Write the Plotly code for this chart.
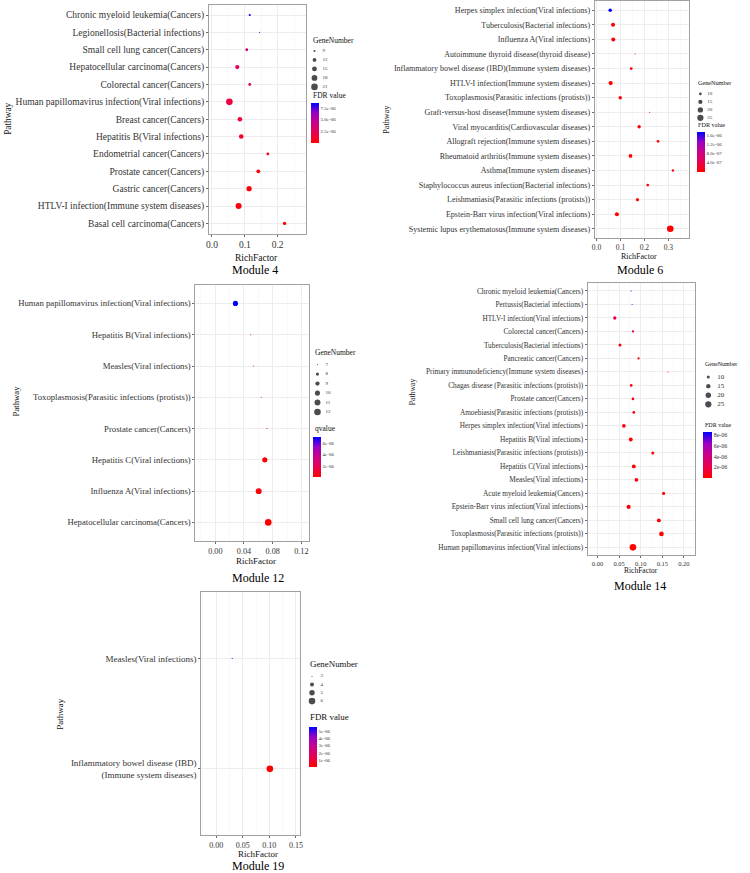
import math
import plotly.graph_objects as go

W, H = 750, 873
FONT = "Liberation Serif"

# ---------------- data ----------------
m4_pathways = ["Chronic myeloid leukemia(Cancers)", "Legionellosis(Bacterial infections)",
               "Small cell lung cancer(Cancers)", "Hepatocellular carcinoma(Cancers)",
               "Colorectal cancer(Cancers)", "Human papillomavirus infection(Viral infections)",
               "Breast cancer(Cancers)", "Hepatitis B(Viral infections)", "Endometrial cancer(Cancers)",
               "Prostate cancer(Cancers)", "Gastric cancer(Cancers)",
               "HTLV-I infection(Immune system diseases)", "Basal cell carcinoma(Cancers)"]
m4_rich = [0.115, 0.145, 0.106, 0.077, 0.115, 0.053, 0.085, 0.089, 0.170, 0.141, 0.113, 0.081, 0.221]
m4_genes = [9, 8, 10, 13, 10, 21, 14, 14, 10, 12, 16, 19, 11]
m4_fdr = [8.6e-6, 6.8e-6, 4.6e-6, 2.6e-6, 2.5e-6, 1.8e-6, 1.5e-6, 1.2e-6, 5e-7, 4e-7, 3e-7, 6e-7, 5e-8]
m4_size_legend = [9, 12, 15, 18, 21]
m4_cb_ticks = [2.5e-6, 5.0e-6, 7.5e-6]
m4_cb_labels = ["2.5e-06", "5.0e-06", "7.5e-06"]
m4_x_ticks = [0.0, 0.1, 0.2]
m4_x_labels = ["0.0", "0.1", "0.2"]

m6_pathways = ["Herpes simplex infection(Viral infections)", "Tuberculosis(Bacterial infections)",
               "Influenza A(Viral infections)", "Autoimmune thyroid disease(thyroid disease)",
               "Inflammatory bowel disease (IBD)(Immune system diseases)",
               "HTLV-I infection(Immune system diseases)", "Toxoplasmosis(Parasitic infections (protists))",
               "Graft-versus-host disease(Immune system diseases)", "Viral myocarditis(Cardiovascular diseases)",
               "Allograft rejection(Immune system diseases)", "Rheumatoid arthritis(Immune system diseases)",
               "Asthma(Immune system diseases)", "Staphylococcus aureus infection(Bacterial infections)",
               "Leishmaniasis(Parasitic infections (protists))", "Epstein-Barr virus infection(Viral infections)",
               "Systemic lupus erythematosus(Immune system diseases)"]
m6_rich = [0.057, 0.069, 0.070, 0.161, 0.145, 0.059, 0.099, 0.222, 0.178, 0.257, 0.142, 0.319, 0.214, 0.171, 0.085, 0.308]
m6_genes = [12, 14, 14, 7, 10, 15, 12, 7, 12, 10, 13, 9, 10, 11, 14, 27]
m6_fdr = [1.75e-6, 6e-8, 8e-8, 4e-8, 9e-8, 3e-8, 5e-8, 7e-8, 4e-8, 2e-8, 3e-8, 2e-8, 1e-8, 1e-8, 5e-9, 1e-9]
m6_size_legend = [10, 15, 20, 25]
m6_cb_ticks = [4e-7, 8e-7, 1.2e-6, 1.6e-6]
m6_cb_labels = ["4.0e-07", "8.0e-07", "1.2e-06", "1.6e-06"]
m6_x_ticks = [0.0, 0.1, 0.2, 0.3]
m6_x_labels = ["0.0", "0.1", "0.2", "0.3"]

m12_pathways = ["Human papillomavirus infection(Viral infections)", "Hepatitis B(Viral infections)",
                "Measles(Viral infections)", "Toxoplasmosis(Parasitic infections (protists))",
                "Prostate cancer(Cancers)", "Hepatitis C(Viral infections)",
                "Influenza A(Viral infections)", "Hepatocellular carcinoma(Cancers)"]
m12_rich = [0.0281, 0.0494, 0.0535, 0.064, 0.072, 0.069, 0.0605, 0.0738]
m12_genes = [10, 7, 7, 7, 7, 10, 11, 12]
m12_q = [7.2e-6, 3.0e-6, 2.8e-6, 1.6e-6, 1.1e-6, 3e-7, 2e-7, 1e-7]
m12_size_legend = [7, 8, 9, 10, 11, 12]
m12_cb_ticks = [2e-6, 4e-6, 6e-6]
m12_cb_labels = ["2e-06", "4e-06", "6e-06"]
m12_x_ticks = [0.0, 0.04, 0.08, 0.12]
m12_x_labels = ["0.00", "0.04", "0.08", "0.12"]

m14_pathways = ["Chronic myeloid leukemia(Cancers)", "Pertussis(Bacterial infections)",
                "HTLV-I infection(Viral infections)", "Colorectal cancer(Cancers)",
                "Tuberculosis(Bacterial infections)", "Pancreatic cancer(Cancers)",
                "Primary immunodeficiency(Immune system diseases)",
                "Chagas disease (Parasitic infections (protists))", "Prostate cancer(Cancers)",
                "Amoebiasis(Parasitic infections (protists))", "Herpes simplex infection(Viral infections)",
                "Hepatitis B(Viral infections)", "Leishmaniasis(Parasitic infections (protists))",
                "Hepatitis C(Viral infections)", "Measles(Viral infections)", "Acute myeloid leukemia(Cancers)",
                "Epstein-Barr virus infection(Viral infections)", "Small cell lung cancer(Cancers)",
                "Toxoplasmosis(Parasitic infections (protists))",
                "Human papillomavirus infection(Viral infections)"]
m14_rich = [0.078, 0.080, 0.040, 0.082, 0.052, 0.095, 0.163, 0.078, 0.082, 0.084,
            0.061, 0.077, 0.128, 0.084, 0.090, 0.153, 0.072, 0.142, 0.148, 0.082]
m14_genes = [6, 6, 11, 8, 10, 8, 6, 9, 9, 9, 12, 13, 10, 13, 12, 10, 14, 13, 16, 27]
m14_fdr = [8.5e-6, 7.6e-6, 1.9e-6, 1.8e-6, 4e-7, 3e-7, 5e-7, 2e-7, 2e-7, 2e-7,
           1.5e-7, 1e-7, 1e-7, 5e-8, 5e-8, 4e-8, 3e-8, 2e-8, 1e-8, 1e-10]
m14_size_legend = [10, 15, 20, 25]
m14_cb_ticks = [2e-6, 4e-6, 6e-6, 8e-6]
m14_cb_labels = ["2e-06", "4e-06", "6e-06", "8e-06"]
m14_x_ticks = [0.0, 0.05, 0.10, 0.15, 0.20]
m14_x_labels = ["0.00", "0.05", "0.10", "0.15", "0.20"]

m19_pathways = ["Measles(Viral infections)", "Inflammatory bowel disease (IBD)<br>(Immune system diseases)"]
m19_rich = [0.030, 0.101]
m19_genes = [3, 6]
m19_fdr = [5.55e-6, 1e-8]
m19_size_legend = [3, 4, 5, 6]
m19_cb_ticks = [1e-6, 2e-6, 3e-6, 4e-6, 5e-6]
m19_cb_labels = ["1e-06", "2e-06", "3e-06", "4e-06", "5e-06"]
m19_x_ticks = [0.0, 0.05, 0.10, 0.15]
m19_x_labels = ["0.00", "0.05", "0.10", "0.15"]

# ---------------- layout config (pixels) ----------------
CS = [[0, '#FF0000'], [0.25, '#E80050'], [0.5, '#C90089'], [0.75, '#9A00C3'], [1, '#0000FF']]

panels = [
    dict(name="Module 4", paths=m4_pathways, x=m4_rich, g=m4_genes, c=m4_fdr, leg=m4_size_legend,
         cbt=m4_cb_ticks, cbl=m4_cb_labels, xt=m4_x_ticks, xl=m4_x_labels, ctitle="FDR value",
         L=207.7, R=305, T=3.6, B=233.1, xr=[-0.009, 0.285], minor=0.05,
         yfs=9.5, xfs=9.5, rf=(256, 257, 9.5), title=(254, 269), pw=(5, 118, 9.3),
         lg=dict(x=310, gt=40, it=50, sp=9, dx=4, lx=12, lfs=5, tfs=7.5, ct=95, cx=310, ctop=102, clen=40, cth=8, cfs=5)),
    dict(name="Module 6", paths=m6_pathways, x=m6_rich, g=m6_genes, c=m6_fdr, leg=m6_size_legend,
         cbt=m6_cb_ticks, cbl=m6_cb_labels, xt=m6_x_ticks, xl=m6_x_labels, ctitle="FDR value",
         L=596.5, R=691.7, T=0.5, B=236.8, xr=[-0.0075, 0.387], minor=0.05,
         yfs=8.0, xfs=7.5, rf=(641, 255.7, 8), title=(642.3, 269), pw=(387, 118, 8.2),
         lg=dict(x=699, gt=82, it=93, sp=8, dx=4, lx=11, lfs=5, tfs=6.2, ct=124, cx=700, ctop=131, clen=40, cth=8, cfs=5)),
    dict(name="Module 12", paths=m12_pathways, x=m12_rich, g=m12_genes, c=m12_q, leg=m12_size_legend,
         cbt=m12_cb_ticks, cbl=m12_cb_labels, xt=m12_x_ticks, xl=m12_x_labels, ctitle="qvalue",
         L=194, R=308, T=284, B=540.8, xr=[-0.0277, 0.130], minor=0.02,
         yfs=8.7, xfs=8.2, rf=(255, 561, 9), title=(256.7, 578), pw=(13, 400, 8.7),
         lg=dict(x=313, gt=352, it=364, sp=9.5, dx=4, lx=12, lfs=5, tfs=7.5, ct=428, cx=313, ctop=436, clen=40, cth=8, cfs=5)),
    dict(name="Module 14", paths=m14_pathways, x=m14_rich, g=m14_genes, c=m14_fdr, leg=m14_size_legend,
         cbt=m14_cb_ticks, cbl=m14_cb_labels, xt=m14_x_ticks, xl=m14_x_labels, ctitle="FDR value",
         L=589.3, R=697.3, T=282.2, B=555.1, xr=[-0.023, 0.225], minor=0.025,
         yfs=7.3, xfs=6.5, rf=(643, 570, 7.5), title=(642.3, 586), pw=(413, 391, 7.7),
         lg=dict(x=706, gt=363, it=376.5, sp=9.1, dx=5, lx=14, lfs=7, tfs=6, ct=424, cx=705.7, ctop=431.7, clen=46, cth=9, cfs=6)),
    dict(name="Module 19", paths=m19_pathways, x=m19_rich, g=m19_genes, c=m19_fdr, leg=m19_size_legend,
         cbt=m19_cb_ticks, cbl=m19_cb_labels, xt=m19_x_ticks, xl=m19_x_labels, ctitle="FDR value",
         L=200, R=299, T=592, B=835, xr=[-0.028, 0.157], minor=0.025,
         yfs=9, xfs=8, rf=(256.7, 854, 9), title=(256.7, 866), pw=(58, 714, 9),
         lg=dict(x=307, gt=664, it=676, sp=8.3, dx=4.5, lx=13, lfs=5, tfs=8.9, ct=717, cx=308, ctop=727, clen=40, cth=8, cfs=5)),
]


def dot_sizes(vals, lo, hi, k=1.1):
    return [k * math.sqrt(max(1 + 35 * (v - lo) / (hi - lo), 0.3)) for v in vals]


def fx(p):
    return p / W


def fy(p):
    return 1 - p / H


fig = go.Figure()
layout = dict(width=W, height=H, margin=dict(l=0, r=0, t=0, b=0),
              paper_bgcolor='white', plot_bgcolor='white', showlegend=False,
              font=dict(family=FONT, color='#222222'))
annotations = []

for i, p in enumerate(panels, start=1):
    sfx = "" if i == 1 else str(i)
    xa, ya = "x" + sfx, "y" + sfx
    ca = "coloraxis" + sfx
    lo, hi = min(p["g"]), max(p["g"])
    n = len(p["paths"])

    fig.add_trace(go.Scatter(
        x=p["x"], y=p["paths"], mode="markers", xaxis=xa, yaxis=ya,
        marker=dict(size=dot_sizes(p["g"], lo, hi), color=p["c"], coloraxis=ca, line=dict(width=0), opacity=1),
        hoverinfo="x+y"))

    layout["xaxis" + sfx] = dict(
        domain=[fx(p["L"]), fx(p["R"])], range=p["xr"], anchor=ya,
        tickvals=p["xt"], ticktext=p["xl"], tickfont=dict(size=p["xfs"], color='#333333', family=FONT),
        ticks="outside", ticklen=2, tickcolor='#444444', tickwidth=0.8,
        showline=True, mirror=True, linecolor='#A0A0A0', linewidth=1,
        showgrid=True, gridcolor='#EBEBEB', gridwidth=0.9, zeroline=False, fixedrange=True,
        minor=dict(dtick=p["minor"], tick0=0, showgrid=True, gridcolor='#F5F5F5', gridwidth=0.6))
    layout["yaxis" + sfx] = dict(
        domain=[fy(p["B"]), fy(p["T"])], type="category", categoryorder="array",
        categoryarray=p["paths"], range=[n - 0.4, -0.6], anchor=xa,
        tickfont=dict(size=p["yfs"], color='#333333', family=FONT),
        ticks="outside", ticklen=2, tickcolor='#444444', tickwidth=0.8,
        showline=True, mirror=True, linecolor='#A0A0A0', linewidth=1,
        showgrid=True, gridcolor='#EBEBEB', gridwidth=0.9, zeroline=False, fixedrange=True)

    lg = p["lg"]
    layout[ca] = dict(
        colorscale=CS, cmin=min(p["c"]), cmax=max(p["c"]),
        colorbar=dict(x=fx(lg["cx"]), xanchor="left", y=fy(lg["ctop"]), yanchor="top",
                      len=lg["clen"], lenmode="pixels", thickness=lg["cth"], thicknessmode="pixels",
                      outlinewidth=0, xpad=0, ypad=0, ticks="", tickvals=p["cbt"], ticktext=p["cbl"],
                      tickfont=dict(size=lg["cfs"], color='#333333', family=FONT)))

    # size legend on its own hidden axes
    j = i + 5
    lxa, lya = "x" + str(j), "y" + str(j)
    nl = len(p["leg"])
    top = lg["it"] - lg["sp"] / 2
    bot = lg["it"] + (nl - 1) * lg["sp"] + lg["sp"] / 2
    layout["xaxis" + str(j)] = dict(domain=[fx(lg["x"]), fx(lg["x"] + 40)], range=[0, 40],
                                    visible=False, fixedrange=True, anchor=lya)
    layout["yaxis" + str(j)] = dict(domain=[fy(bot), fy(top)], range=[nl - 0.5, -0.5],
                                    visible=False, fixedrange=True, anchor=lxa)
    idx = list(range(nl))
    fig.add_trace(go.Scatter(x=[lg["dx"]] * nl, y=idx, mode="markers", xaxis=lxa, yaxis=lya,
                             marker=dict(size=dot_sizes(p["leg"], lo, hi), color="black", line=dict(width=0)),
                             hoverinfo="skip"))
    fig.add_trace(go.Scatter(x=[lg["lx"]] * nl, y=idx, mode="text", xaxis=lxa, yaxis=lya,
                             text=[str(v) for v in p["leg"]], textposition="middle right",
                             textfont=dict(size=lg["lfs"], color='#333333', family=FONT), hoverinfo="skip"))

    # texts
    annotations.append(dict(text="GeneNumber", x=fx(lg["x"]), y=fy(lg["gt"]), xref="paper", yref="paper",
                            xanchor="left", yanchor="middle", showarrow=False,
                            font=dict(size=lg["tfs"], color='#111111', family=FONT)))
    annotations.append(dict(text=p["ctitle"], x=fx(lg["x"]), y=fy(lg["ct"]), xref="paper", yref="paper",
                            xanchor="left", yanchor="middle", showarrow=False,
                            font=dict(size=lg["tfs"], color='#111111', family=FONT)))
    annotations.append(dict(text="RichFactor", x=fx(p["rf"][0]), y=fy(p["rf"][1]), xref="paper", yref="paper",
                            xanchor="center", yanchor="middle", showarrow=False,
                            font=dict(size=p["rf"][2], color='#111111', family=FONT)))
    annotations.append(dict(text=p["name"], x=fx(p["title"][0]), y=fy(p["title"][1]), xref="paper", yref="paper",
                            xanchor="center", yanchor="middle", showarrow=False,
                            font=dict(size=12, color='#000000', family=FONT)))
    annotations.append(dict(text="Pathway", x=fx(p["pw"][0]), y=fy(p["pw"][1]), xref="paper", yref="paper",
                            xanchor="center", yanchor="middle", showarrow=False, textangle=-90,
                            font=dict(size=p["pw"][2], color='#111111', family=FONT)))

layout["annotations"] = annotations
fig.update_layout(**layout)
fig.write_html("out.html",
               config={"displayModeBar": False, "staticPlot": True},
               post_script="document.body.style.margin='0';document.body.style.padding='0';"
                           "document.body.style.overflow='hidden';")
